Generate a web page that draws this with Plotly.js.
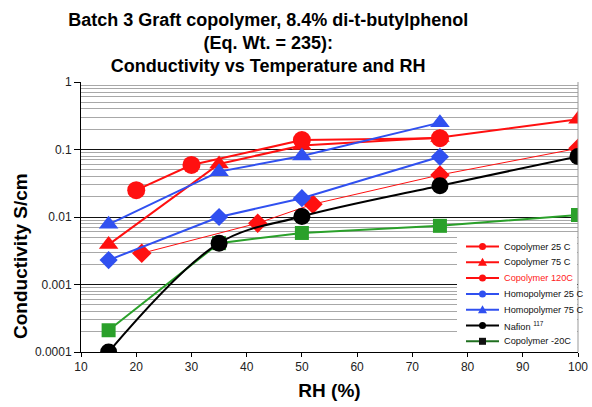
<!DOCTYPE html>
<html>
<head>
<meta charset="utf-8">
<script src="https://cdn.plot.ly/plotly-3.0.1.min.js"></script>
<style>html,body{margin:0;padding:0;background:#fff;}#chart{width:592px;height:407px;}</style>
</head>
<body>
<div id="chart"></div>
<script>
// Data
const co25_rh = [21, 42, 52, 75, 100];
const co25_s  = [0.0029, 0.0081, 0.0155, 0.042, 0.104];

const co75_rh = [15, 35, 50, 75, 100];
const co75_s  = [0.0039, 0.061, 0.115, 0.15, 0.28];

const co120_rh = [20, 30, 50, 75];
const co120_s  = [0.025, 0.059, 0.138, 0.147];

const homo25_rh = [15, 35, 50, 75];
const homo25_s  = [0.0023, 0.010, 0.019, 0.078];

const homo75_rh = [15, 35, 50, 75];
const homo75_s  = [0.0078, 0.047, 0.08, 0.25];

const nafion_rh = [15, 35, 50, 75, 100];
const nafion_s  = [0.0001, 0.0041, 0.0102, 0.029, 0.079];

const coM20_rh = [15, 35, 50, 75, 100];
const coM20_s  = [0.00021, 0.0041, 0.0058, 0.0074, 0.0107];

const legendNames = ['Copolymer 25 C', 'Copolymer 75 C', 'Copolymer 120C',
  'Homopolymer 25 C', 'Homopolymer 75 C', 'Nafion <sup>117</sup>', 'Copolymer -20C'];

const yTickVals = [0.0001, 0.001, 0.01, 0.1, 1];
const yTickText = ['0.0001', '0.001', '0.01', '0.1', '1'];

const RED = '#ff1010', BLUE = '#3050f0', BLACK = '#000000', GREEN = '#2aa02a';

function tr(name, x, y, color, sym, size, lw, shape) {
  return {name: name, x: x, y: y, type: 'scatter', mode: 'lines+markers', showlegend: false,
    line: {color: color, width: lw, shape: shape || 'linear'},
    marker: {color: color, symbol: sym, size: size}};
}

const data = [
  tr(legendNames[0], co25_rh, co25_s, RED, 'diamond', 15, 1),
  tr(legendNames[1], co75_rh, co75_s, RED, 'triangle-up', 17, 2),
  tr(legendNames[2], co120_rh, co120_s, RED, 'circle', 18, 2),
  tr(legendNames[3], homo25_rh, homo25_s, BLUE, 'diamond', 14, 2),
  tr(legendNames[4], homo75_rh, homo75_s, BLUE, 'triangle-up', 17, 2),
  tr(legendNames[6], coM20_rh, coM20_s, GREEN, 'square', 14, 2),
  tr(legendNames[5], nafion_rh, nafion_s, BLACK, 'circle', 17, 2, 'spline')
];

// ---- hand-built compact legend (positions in pixels, converted to paper fractions) ----
const PL = 81, PR = 578, PT = 82, PB = 352;
const px = v => (v - PL) / (PR - PL);
const py = v => (PB - v) / (PB - PT);
const legendItems = [
  {line: RED, mark: RED, sym: 'circle', text: '#111'},
  {line: RED, mark: RED, sym: 'triangle', text: '#111'},
  {line: RED, mark: RED, sym: 'circle', text: '#ff2020'},
  {line: BLUE, mark: BLUE, sym: 'circle', text: '#111'},
  {line: BLUE, mark: BLUE, sym: 'triangle', text: '#111'},
  {line: BLACK, mark: BLACK, sym: 'circle', text: '#111'},
  {line: '#1f6f1f', mark: '#111', sym: 'square', text: '#111'}
];
const shapes = [
  {type: 'line', xref: 'paper', yref: 'paper', x0: 1, x1: 1, y0: 0, y1: 1, line: {color: '#999', width: 1}},
  {type: 'rect', xref: 'paper', yref: 'paper', x0: px(457), x1: px(PR - 1), y0: py(350), y1: py(237),
    fillcolor: '#fff', line: {width: 0}, layer: 'above'}
];
const annotations = [{text: '<b>Conductivity S/cm</b>', textangle: -90, showarrow: false,
  xref: 'paper', yref: 'paper', x: -0.123, y: 0.355, xanchor: 'center', yanchor: 'middle',
  font: {size: 19, color: '#000'}}];
legendItems.forEach((it, i) => {
  const cy = 246.5 + i * 15.8;
  shapes.push({type: 'line', xref: 'paper', yref: 'paper', x0: px(466), x1: px(499), y0: py(cy), y1: py(cy),
    line: {color: it.line, width: 2}, layer: 'above'});
  const base = {xref: 'paper', yref: 'paper', xsizemode: 'pixel', ysizemode: 'pixel',
    xanchor: px(482.5), yanchor: py(cy), fillcolor: it.mark, line: {width: 0}, layer: 'above'};
  if (it.sym === 'circle') shapes.push(Object.assign({type: 'circle', x0: -3.5, x1: 3.5, y0: -3.5, y1: 3.5}, base));
  else if (it.sym === 'square') shapes.push(Object.assign({type: 'rect', x0: -3.5, x1: 3.5, y0: -3.5, y1: 3.5}, base));
  else shapes.push(Object.assign({type: 'path', path: 'M -4.5 -3.5 L 4.5 -3.5 L 0 4.5 Z'}, base));
  annotations.push({text: legendNames[i], showarrow: false, xref: 'paper', yref: 'paper',
    x: px(502), y: py(cy), xanchor: 'left', yanchor: 'middle',
    font: {size: 9.2, color: it.text, family: 'Liberation Sans Narrow, Liberation Sans, Arial, sans-serif'}});
});

const layout = {
  width: 592, height: 407,
  margin: {l: PL, r: 592 - PR, t: PT, b: 407 - PB},
  paper_bgcolor: '#fff', plot_bgcolor: '#fff',
  font: {family: 'Liberation Sans, Arial, sans-serif', color: '#222'},
  title: {text: '<b>Batch 3 Graft copolymer, 8.4% di-t-butylphenol<br>(Eq. Wt. = 235):<br>Conductivity vs Temperature and RH</b>',
    font: {size: 18, color: '#000'}, x: 0.453, xanchor: 'center', y: 0.937, yanchor: 'middle'},
  xaxis: {range: [10, 100], dtick: 10, tick0: 10, showgrid: false, zeroline: false,
    showline: true, linecolor: '#000', linewidth: 1,
    ticks: 'outside', ticklen: 4, tickcolor: '#000',
    tickfont: {size: 12, color: '#222'},
    title: {text: '<b>RH (%)</b>', font: {size: 19, color: '#000'}, standoff: 10}},
  yaxis: {type: 'log', range: [-4, 0], tickmode: 'array', tickvals: yTickVals, ticktext: yTickText,
    showgrid: true, gridcolor: '#111', gridwidth: 1, zeroline: false,
    showline: true, linecolor: '#000', linewidth: 1,
    ticks: 'outside', ticklen: 6, tickcolor: '#000',
    tickfont: {size: 12, color: '#222'},
    minor: {dtick: 'D1', showgrid: true, gridcolor: '#a8a8a8', gridwidth: 1, ticks: ''}},
  annotations: annotations,
  shapes: shapes,
  showlegend: false
};

Plotly.newPlot('chart', data, layout, {displayModeBar: false, staticPlot: true});
</script>
</body>
</html>
